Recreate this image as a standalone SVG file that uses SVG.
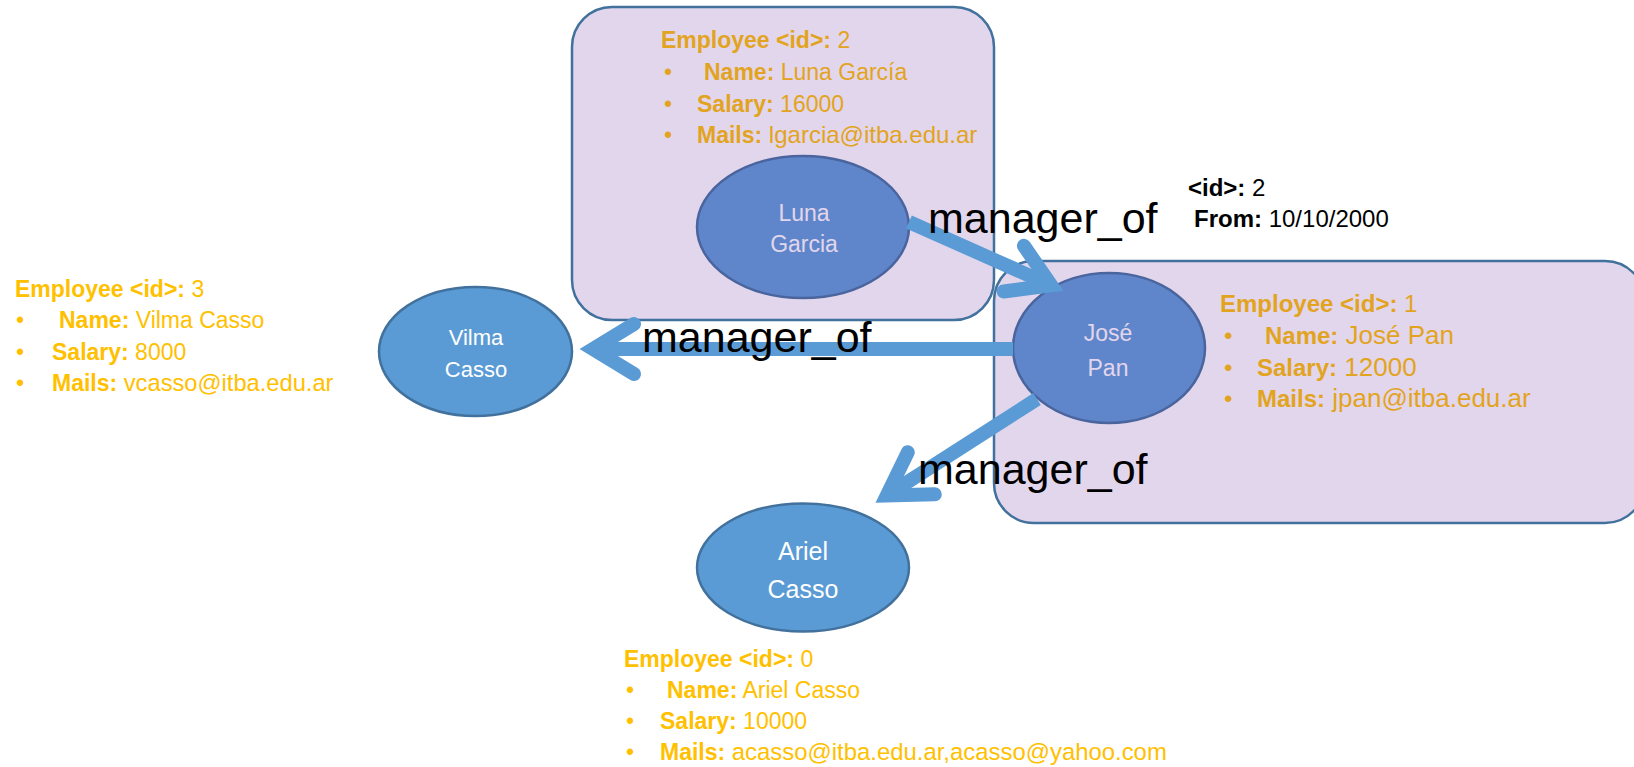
<svg xmlns="http://www.w3.org/2000/svg" width="1634" height="767" viewBox="0 0 1634 767">
<style>
text{font-family:"Liberation Sans",Arial,sans-serif}
.box{fill:#e2d6ec;stroke:#41719c;stroke-width:2.5}
.nodeA{fill:#5b9bd5;stroke:#41719c;stroke-width:2.5}
.nodeB{fill:#5f86ca;stroke:#4a649d;stroke-width:2.5}
.nmA{fill:#ffffff;text-anchor:middle}
.nmB{fill:#e2d6ec;text-anchor:middle}
.inf{fill:#ffc000}
.infB{fill:#e2a420}
.b{font-weight:bold}
.conn{fill:none;stroke:#5b9bd5;stroke-width:14;marker-end:url(#chev)}
.lbl{font-size:43px;fill:#000}
.elbl{font-size:24px;fill:#000}
</style>
<defs>
<marker id="chev" markerUnits="userSpaceOnUse" viewBox="-70 -40 80 80" refX="-14" refY="0" markerWidth="80" markerHeight="80" orient="auto" overflow="visible">
<path d="M-55,-25 L-14,0 L-55,25" fill="none" stroke="#5b9bd5" stroke-width="14" stroke-linecap="round" stroke-linejoin="miter" stroke-miterlimit="6"/>
</marker>
</defs>

<g id="node-luna">
<rect class="box" x="572" y="7" width="422" height="313" rx="40" ry="40"/>
<text class="infB" font-size="23"><tspan x="661" y="48" class="b">Employee &lt;id&gt;:</tspan><tspan> 2</tspan></text>
<text class="infB" font-size="23"><tspan x="664" y="80">•</tspan><tspan x="704" y="80" class="b">Name:</tspan><tspan> Luna García</tspan></text>
<text class="infB" font-size="23"><tspan x="664" y="112">•</tspan><tspan x="697" y="112" class="b">Salary:</tspan><tspan> 16000</tspan></text>
<text class="infB" font-size="23"><tspan x="664" y="143">•</tspan><tspan x="697" y="143" class="b">Mails:</tspan><tspan font-size="24"> lgarcia@itba.edu.ar</tspan></text>
<ellipse class="nodeB" cx="803" cy="227" rx="106" ry="71"/>
<text class="nmB" font-size="23"><tspan x="804" y="221">Luna</tspan><tspan x="804" y="252">Garcia</tspan></text>
</g>

<g id="node-jose">
<rect class="box" x="994" y="261" width="651" height="262" rx="40" ry="40"/>
<ellipse class="nodeB" cx="1109" cy="348" rx="96" ry="75"/>
<text class="nmB" font-size="23"><tspan x="1108" y="341">José</tspan><tspan x="1108" y="376">Pan</tspan></text>
<text class="infB" font-size="24"><tspan x="1220" y="312" class="b">Employee &lt;id&gt;:</tspan><tspan> 1</tspan></text>
<text class="infB" font-size="24"><tspan x="1224" y="344">•</tspan><tspan x="1265" y="344" class="b">Name:</tspan><tspan font-size="26"> José Pan</tspan></text>
<text class="infB" font-size="24"><tspan x="1224" y="376">•</tspan><tspan x="1257" y="376" class="b">Salary:</tspan><tspan font-size="26"> 12000</tspan></text>
<text class="infB" font-size="24"><tspan x="1224" y="407">•</tspan><tspan x="1257" y="407" class="b">Mails:</tspan><tspan font-size="26"> jpan@itba.edu.ar</tspan></text>
</g>

<g id="node-vilma">
<ellipse class="nodeA" cx="475.5" cy="351.5" rx="96.5" ry="64.5"/>
<text class="nmA" font-size="22"><tspan x="476" y="345">Vilma</tspan><tspan x="476" y="377">Casso</tspan></text>
<text class="inf" font-size="23"><tspan x="15" y="297" class="b">Employee &lt;id&gt;:</tspan><tspan> 3</tspan></text>
<text class="inf" font-size="23"><tspan x="16" y="328">•</tspan><tspan x="59" y="328" class="b">Name:</tspan><tspan> Vilma Casso</tspan></text>
<text class="inf" font-size="23"><tspan x="16" y="360">•</tspan><tspan x="52" y="360" class="b">Salary:</tspan><tspan> 8000</tspan></text>
<text class="inf" font-size="23"><tspan x="16" y="391">•</tspan><tspan x="52" y="391" class="b">Mails:</tspan><tspan font-size="23.7"> vcasso@itba.edu.ar</tspan></text>
</g>

<g id="node-ariel">
<ellipse class="nodeA" cx="803" cy="567.5" rx="106" ry="64"/>
<text class="nmA" font-size="25"><tspan x="803" y="560">Ariel</tspan><tspan x="803" y="598">Casso</tspan></text>
<text class="inf" font-size="23"><tspan x="624" y="667" class="b">Employee &lt;id&gt;:</tspan><tspan> 0</tspan></text>
<text class="inf" font-size="23"><tspan x="626" y="698">•</tspan><tspan x="667" y="698" class="b">Name:</tspan><tspan> Ariel Casso</tspan></text>
<text class="inf" font-size="23"><tspan x="626" y="729">•</tspan><tspan x="660" y="729" class="b">Salary:</tspan><tspan> 10000</tspan></text>
<text class="inf" font-size="23"><tspan x="626" y="760">•</tspan><tspan x="660" y="760" class="b">Mails:</tspan><tspan font-size="23.9"> acasso@itba.edu.ar,acasso@yahoo.com</tspan></text>
</g>

<g id="connectors">
<line id="e-luna-jose" class="conn" x1="909" y1="222" x2="1051.2" y2="285.3"/>
<line id="e-jose-vilma" class="conn" x1="1013" y1="349" x2="593" y2="349"/>
<line id="e-jose-ariel" class="conn" x1="1037" y1="399" x2="886.8" y2="495.4"/>
<text class="lbl" x="928" y="233">manager_of</text>
<text class="lbl" x="642" y="352">manager_of</text>
<text class="lbl" x="918" y="484">manager_of</text>
<text class="elbl"><tspan x="1188" y="196" class="b">&lt;id&gt;:</tspan><tspan> 2</tspan></text>
<text class="elbl"><tspan x="1194" y="227" class="b">From:</tspan><tspan> 10/10/2000</tspan></text>
</g>
</svg>
